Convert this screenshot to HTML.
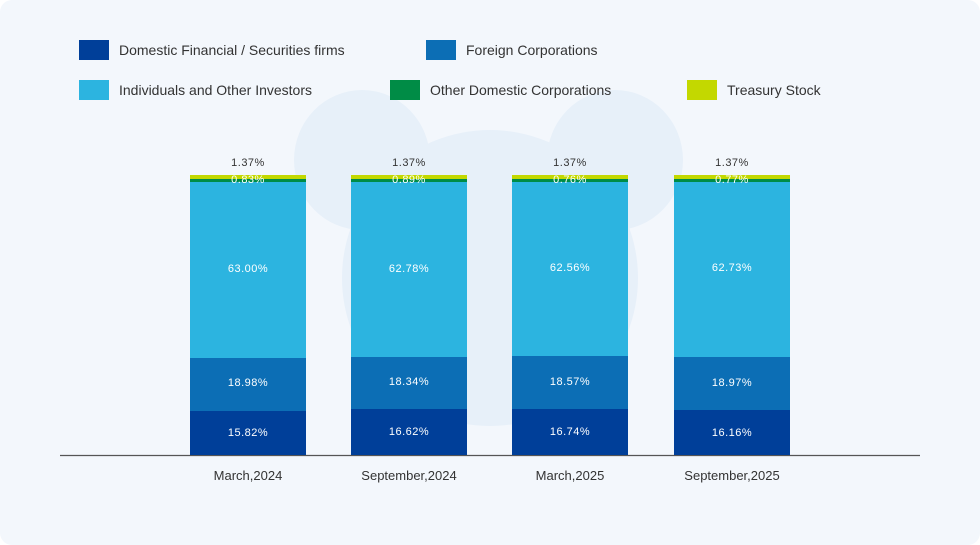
<!DOCTYPE html>
<html><head><style>
body{margin:0;background:#fff;}
.c{position:relative;width:980px;height:545px;background:#f3f7fc;border-radius:12px;overflow:hidden;font-family:"Liberation Sans",sans-serif;}
.sq{position:absolute;width:30px;height:20px;}
.lt{position:absolute;font-size:14px;color:#333;line-height:20px;}
.seg{position:absolute;left:0;width:116px;}
.v{position:absolute;width:116px;text-align:center;font-size:11px;color:#fff;letter-spacing:0.5px;}
.x{position:absolute;width:160px;text-align:center;font-size:13px;color:#333;top:468px;}
</style></head><body><div class="c">
<svg width="980" height="545" style="position:absolute;left:0;top:0">
<g fill="#e7f0f9">
<ellipse cx="362" cy="160" rx="68" ry="70"/>
<ellipse cx="615" cy="160" rx="68" ry="70"/>
<ellipse cx="490" cy="278" rx="148" ry="148"/>
</g>
<line x1="60" y1="455.5" x2="920" y2="455.5" stroke="#555" stroke-width="1.2"/>
</svg>
<div class="sq" style="left:79px;top:40px;background:#003f99"></div><div class="lt" style="left:119px;top:40px">Domestic Financial / Securities firms</div>
<div class="sq" style="left:426px;top:40px;background:#0c6eb5"></div><div class="lt" style="left:466px;top:40px">Foreign Corporations</div>
<div class="sq" style="left:79px;top:80px;background:#2cb4e0"></div><div class="lt" style="left:119px;top:80px">Individuals and Other Investors</div>
<div class="sq" style="left:390px;top:80px;background:#008c46"></div><div class="lt" style="left:430px;top:80px">Other Domestic Corporations</div>
<div class="sq" style="left:687px;top:80px;background:#c3d800"></div><div class="lt" style="left:727px;top:80px">Treasury Stock</div>

<div class="seg" style="left:190px;top:175px;height:4px;background:#c3d800"></div>
<div class="seg" style="left:190px;top:179px;height:3px;background:#008c46"></div>
<div class="seg" style="left:190px;top:182px;height:176px;background:#2cb4e0"></div>
<div class="seg" style="left:190px;top:358px;height:53px;background:#0c6eb5"></div>
<div class="seg" style="left:190px;top:411px;height:44px;background:#003f99"></div>
<div class="seg" style="left:351px;top:175px;height:4px;background:#c3d800"></div>
<div class="seg" style="left:351px;top:179px;height:3px;background:#008c46"></div>
<div class="seg" style="left:351px;top:182px;height:175px;background:#2cb4e0"></div>
<div class="seg" style="left:351px;top:357px;height:52px;background:#0c6eb5"></div>
<div class="seg" style="left:351px;top:409px;height:46px;background:#003f99"></div>
<div class="seg" style="left:512px;top:175px;height:4px;background:#c3d800"></div>
<div class="seg" style="left:512px;top:179px;height:3px;background:#008c46"></div>
<div class="seg" style="left:512px;top:182px;height:174px;background:#2cb4e0"></div>
<div class="seg" style="left:512px;top:356px;height:53px;background:#0c6eb5"></div>
<div class="seg" style="left:512px;top:409px;height:46px;background:#003f99"></div>
<div class="seg" style="left:674px;top:175px;height:4px;background:#c3d800"></div>
<div class="seg" style="left:674px;top:179px;height:3px;background:#008c46"></div>
<div class="seg" style="left:674px;top:182px;height:175px;background:#2cb4e0"></div>
<div class="seg" style="left:674px;top:357px;height:53px;background:#0c6eb5"></div>
<div class="seg" style="left:674px;top:410px;height:45px;background:#003f99"></div>

<div class="v" style="left:190px;top:157px;color:#333">1.37%</div>
<div class="v" style="left:351px;top:157px;color:#333">1.37%</div>
<div class="v" style="left:512px;top:157px;color:#333">1.37%</div>
<div class="v" style="left:674px;top:157px;color:#333">1.37%</div>
<div class="v" style="left:190px;top:174px">0.83%</div>
<div class="v" style="left:351px;top:174px">0.89%</div>
<div class="v" style="left:512px;top:174px">0.76%</div>
<div class="v" style="left:674px;top:174px">0.77%</div>
<div class="v" style="left:190px;top:263px">63.00%</div>
<div class="v" style="left:351px;top:263px">62.78%</div>
<div class="v" style="left:512px;top:262px">62.56%</div>
<div class="v" style="left:674px;top:262px">62.73%</div>
<div class="v" style="left:190px;top:377px">18.98%</div>
<div class="v" style="left:351px;top:376px">18.34%</div>
<div class="v" style="left:512px;top:376px">18.57%</div>
<div class="v" style="left:674px;top:377px">18.97%</div>
<div class="v" style="left:190px;top:427px">15.82%</div>
<div class="v" style="left:351px;top:426px">16.62%</div>
<div class="v" style="left:512px;top:426px">16.74%</div>
<div class="v" style="left:674px;top:427px">16.16%</div>

<div class="x" style="left:168px">March,2024</div>
<div class="x" style="left:329px">September,2024</div>
<div class="x" style="left:490px">March,2025</div>
<div class="x" style="left:652px">September,2025</div>
</div></body></html>
